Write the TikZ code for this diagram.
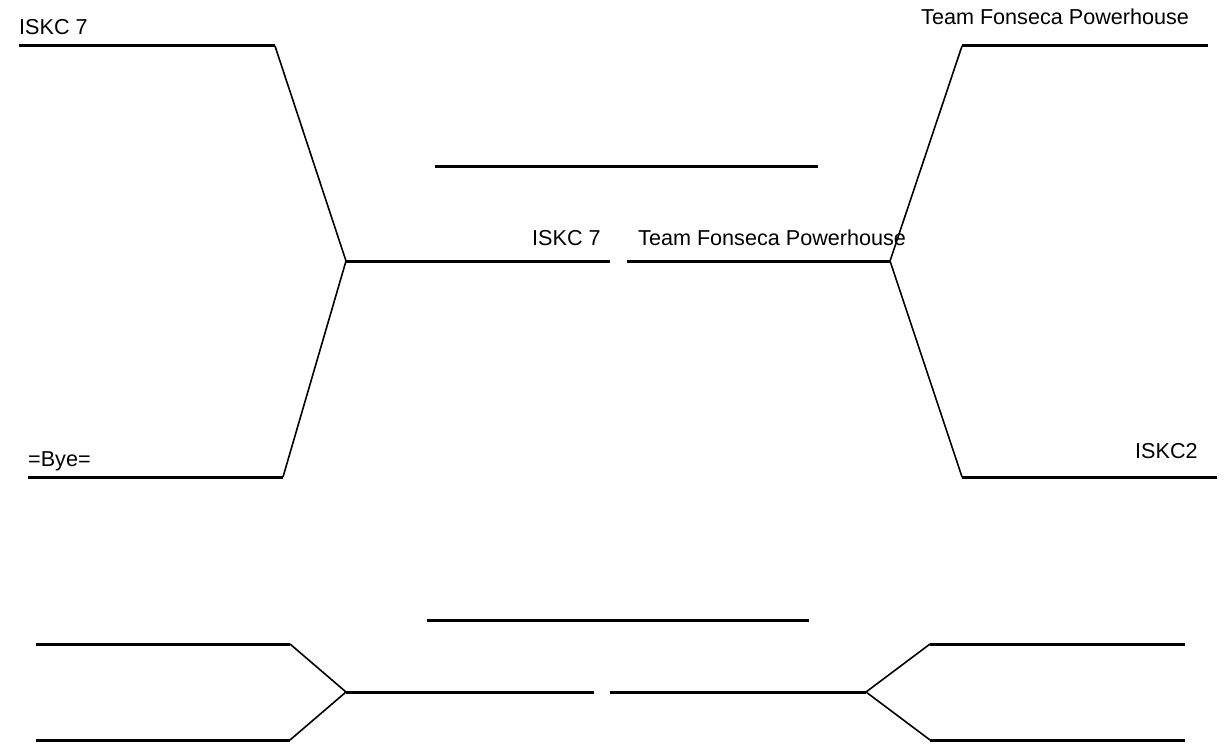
\documentclass[tikz,border=0pt]{standalone}
\usepackage{fontspec}
\setmainfont{Liberation Sans}

\begin{document}
\begin{tikzpicture}[x=1pt,y=-1pt,
        slot/.style={black, line width=3pt},
        link/.style={black, line width=1.6pt},
        team/.style={inner sep=0pt, anchor=base west, font=\fontsize{21.6}{26}\selectfont}]
        \useasboundingbox (0,0) rectangle (1225,752);
        % upper bracket, left half
        \coordinate (la1) at (19,46);   \coordinate (lb1) at (275,46);
        \coordinate (la2) at (28,477);  \coordinate (lb2) at (283,477);
        \coordinate (lf) at (346,261);  \coordinate (lfe) at (610,261);
        % upper bracket, right half
        \coordinate (ra1) at (1208,46); \coordinate (rb1) at (962,46);
        \coordinate (ra2) at (1217,477); \coordinate (rb2) at (962,477);
        \coordinate (rf) at (890,261);  \coordinate (rfe) at (627,261);
        \coordinate (wa) at (435,166);  \coordinate (wb) at (818,166);
        % lower bracket
        \coordinate (pa) at (427,620);  \coordinate (pb) at (809,620);
        \coordinate (pla1) at (36,644); \coordinate (plb1) at (290,644);
        \coordinate (pla2) at (36,740); \coordinate (plb2) at (290,740);
        \coordinate (plf) at (346,692); \coordinate (plfe) at (594,692);
        \coordinate (pra1) at (1185,644); \coordinate (prb1) at (930,644);
        \coordinate (pra2) at (1185,740); \coordinate (prb2) at (930,740);
        \coordinate (prf) at (866,692); \coordinate (prfe) at (610,692);

        \draw [slot] (la1) -- (lb1);
        \draw [slot] (la2) -- (lb2);
        \draw [link] (lb1) -- (lf) -- (lb2);
        \draw [slot] (lf) -- (lfe);
        \draw [slot] (ra1) -- (rb1);
        \draw [slot] (ra2) -- (rb2);
        \draw [link] (rb1) -- (rf) -- (rb2);
        \draw [slot] (rf) -- (rfe);
        \draw [slot] (wa) -- (wb);

        \draw [slot] (pa) -- (pb);
        \draw [slot] (pla1) -- (plb1);
        \draw [slot] (pla2) -- (plb2);
        \draw [link] (plb1) -- (plf) -- (plb2);
        \draw [slot] (plf) -- (plfe);
        \draw [slot] (pra1) -- (prb1);
        \draw [slot] (pra2) -- (prb2);
        \draw [link] (prb1) -- (prf) -- (prb2);
        \draw [slot] (prf) -- (prfe);

        \node[team] (t1) at (19,35) {ISKC 7};
        \node[team] (t2) at (921,25) {Team Fonseca Powerhouse};
        \node[team] (t3) at (28,466) {=Bye=};
        \node[team] (t4) at (1135,458) {ISKC2};
        \node[team] (f1) at (532,245) {ISKC 7};
        \node[team] (f2) at (638,245) {Team Fonseca Powerhouse};
\end{tikzpicture}
\end{document}
